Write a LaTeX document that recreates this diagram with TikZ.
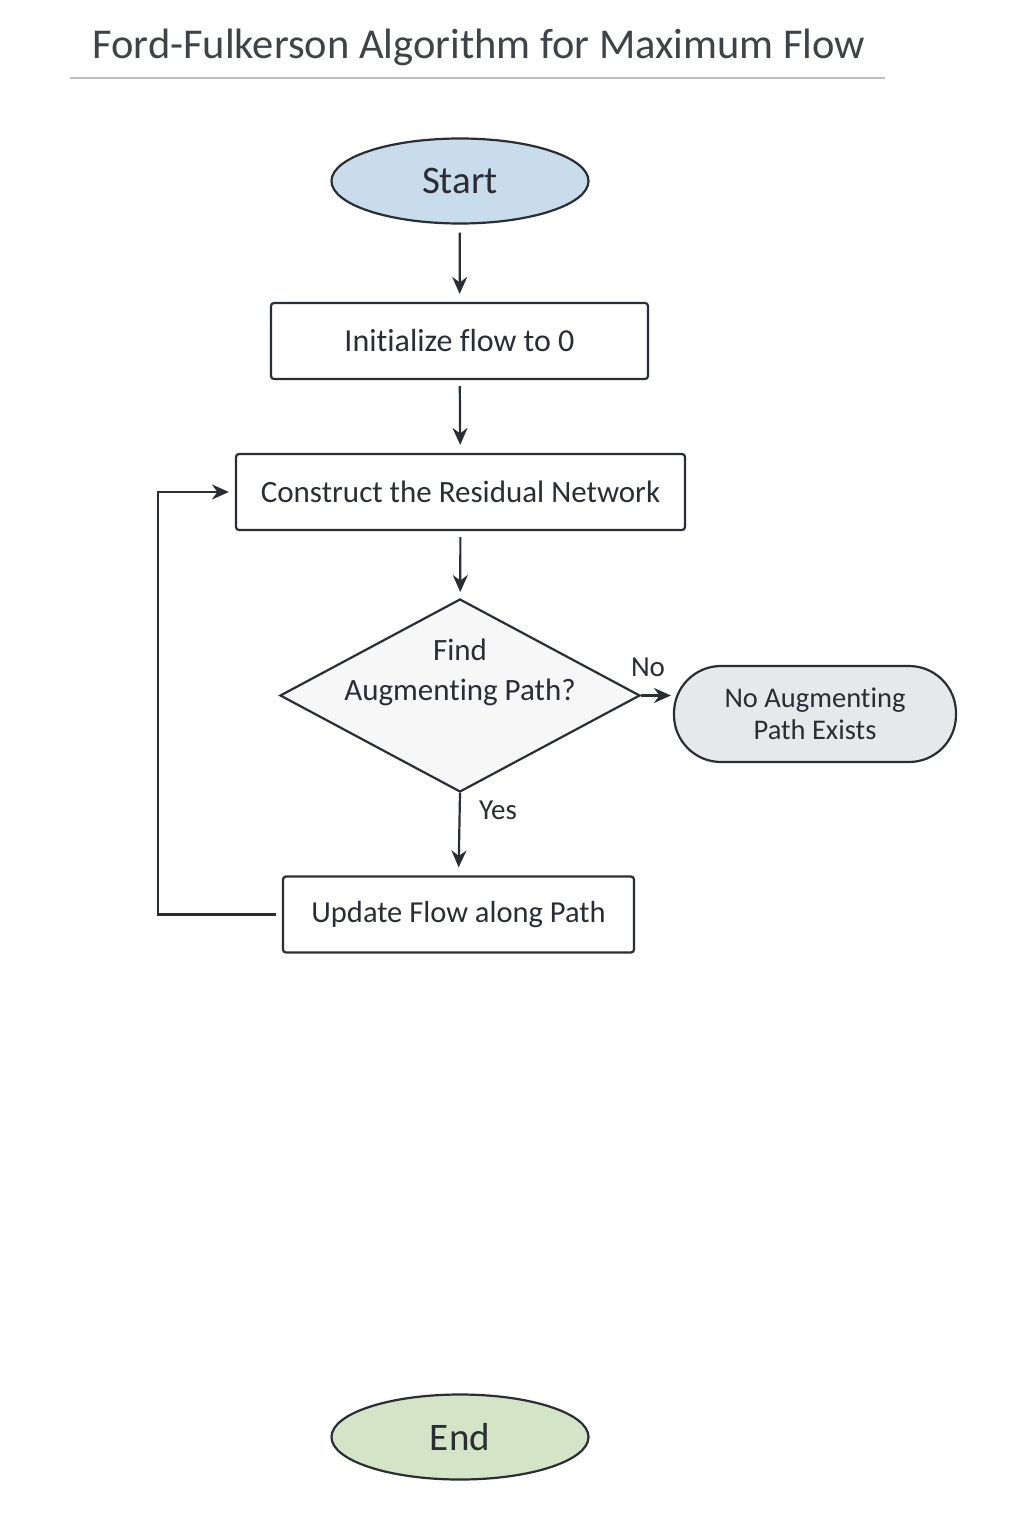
\documentclass[tikz,border=0pt]{standalone}
\usepackage{fontspec}
\setmainfont{Carlito}[Ligatures={NoCommon}]
\usetikzlibrary{shapes.geometric,arrows.meta}
\definecolor{ink}{HTML}{2A2D33}
\definecolor{startfill}{HTML}{C8DCEB}
\definecolor{endfill}{HTML}{D4E4C6}
\definecolor{nofill}{HTML}{E7E8EA}
\definecolor{decfill}{HTML}{F7F7F8}
\begin{document}
\begin{tikzpicture}[x=1pt,y=-1pt,
  base/.style={draw=ink,line width=2.2pt,text=ink,inner sep=0pt,align=center},
  term/.style={base,ellipse,minimum width=257pt,minimum height=85pt,font=\fontsize{39}{44}\selectfont},
  procbox/.style={base,rectangle,rounded corners=3pt,fill=white,minimum height=76pt},
  decis/.style={base,diamond,fill=decfill,minimum width=360pt,minimum height=193pt,aspect=1.865},
  pill/.style={base,rectangle,rounded corners=47pt,fill=nofill,minimum width=282pt,minimum height=96pt,font=\fontsize{28.5}{32}\selectfont},
  arr/.style={draw=ink,line width=2.2pt,-{Stealth[length=17pt,width=15pt]}},
  lbl/.style={text=ink,font=\fontsize{29}{32}\selectfont,inner sep=0pt}]
\useasboundingbox (0,0) rectangle (1024,1536);
\fill[white] (0,0) rectangle (1024,1536);
% title
\node[text=ink!90,font=\fontsize{42.5}{48}\selectfont,inner sep=0pt] (title) at (479,47) {Ford-Fulkerson Algorithm for Maximum Flow};
\draw[line width=1.8pt,draw=black!25] (70,78) -- (885,78);
% nodes
\node[term,fill=startfill] (start) at (460,181) {Start};
\node[procbox,minimum width=377pt,font=\fontsize{32}{36}\selectfont] (init) at (459.5,341) {Initialize flow to 0};
\node[procbox,minimum width=449pt,font=\fontsize{31}{36}\selectfont] (cons) at (460.5,492) {Construct the Residual Network};
\node[decis] (dec) at (460,695.5) {};
\node[text=ink,font=\fontsize{31}{40}\selectfont,align=center,inner sep=0pt] (dectext) at (460,672) {Find\\Augmenting Path?};
\node[pill] (nopath) at (815,714) {No Augmenting\\Path Exists};
\node[procbox,minimum width=351pt,font=\fontsize{30.5}{36}\selectfont] (upd) at (458.5,914.5) {Update Flow along Path};
\node[term,fill=endfill] (end) at (460,1437) {End};
% connectors
\draw[arr,shorten <=8pt,shorten >=8pt] (start) -- (init);
\draw[arr,shorten <=6pt,shorten >=8pt] (init) -- (cons);
\draw[arr,shorten <=6pt,shorten >=6pt] (cons) -- (dec);
\draw[arr,shorten >=2pt] (dec.east) -- (nopath.west |- dec.east);
\node[lbl] (nolbl) at (648,667) {No};
\draw[arr,shorten >=8pt] (dec.south) -- (upd.north);
\node[lbl] (yeslbl) at (498,810) {Yes};
\draw[arr,shorten <=6pt,shorten >=6pt] (upd.west) -- ++(-124,0) |- (cons.west);
\end{tikzpicture}
\end{document}
